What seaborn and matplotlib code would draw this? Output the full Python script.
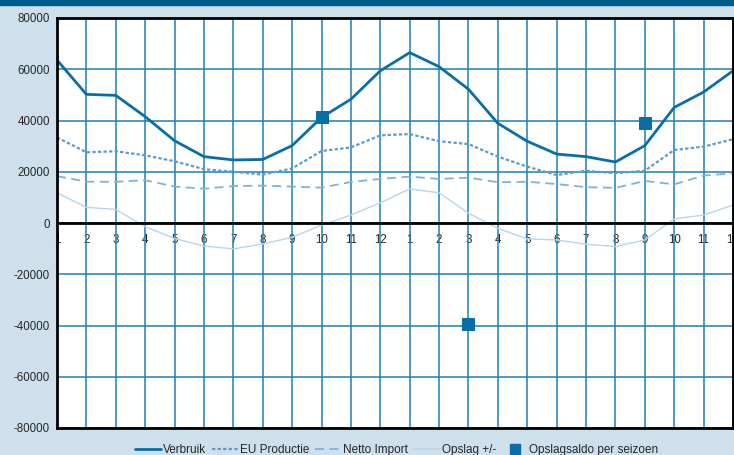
import numpy as np
import pandas as pd
import seaborn as sns
import matplotlib
matplotlib.use("Agg")
import matplotlib.pyplot as plt
from matplotlib.lines import Line2D

# months over two years
maanden = [1, 2, 3, 4, 5, 6, 7, 8, 9, 10, 11, 12,
           1, 2, 3, 4, 5, 6, 7, 8, 9, 10, 11, 12]

verbruik = [63600, 50200, 49800, 41500, 32100, 25900, 24600, 24800, 30200, 41200, 48300, 59400,
            66500, 61000, 52200, 38900, 31900, 26900, 25900, 23800, 30200, 45100, 51100, 59400]
eu_productie = [33400, 27600, 28000, 26400, 24100, 21000, 20000, 18900, 21300, 28100, 29500, 34200,
                34700, 31900, 30800, 25900, 22000, 18700, 20400, 19400, 20400, 28500, 29800, 32700]
netto_import = [18300, 16100, 16100, 16700, 14200, 13400, 14400, 14600, 14200, 13800, 16000, 17200,
                18100, 17200, 17700, 15900, 16100, 15200, 14000, 13700, 16400, 15100, 18500, 19400]
opslag = [11800, 6100, 5300, -1400, -6000, -9000, -10100, -8200, -5600, -800, 3100, 7900,
          13300, 11800, 3800, -2100, -6200, -6600, -8300, -9200, -6600, 1600, 3100, 7000]

# seasonal storage balance (position index, value)
saldo_pos = [9, 14, 20]
saldo_val = [41200, -39400, 39100]

df = pd.DataFrame({
    "idx": np.arange(len(maanden)),
    "Verbruik": verbruik,
    "EU Productie": eu_productie,
    "Netto Import": netto_import,
    "Opslag +/-": opslag,
})
df_saldo = pd.DataFrame({"idx": saldo_pos, "saldo": saldo_val})

sns.set_style("white")
plt.rcParams['font.family'] = ['Liberation Sans', 'DejaVu Sans']

bg = "#cde0ec"
grid_c = "#1f7db8"
c_verbruik = "#0a6ea6"
c_eu = "#5b9ccb"
c_import = "#7fb2d8"
c_opslag = "#b9d5ea"

fig = plt.figure(figsize=(7.34, 4.55), dpi=100, facecolor=bg)
ax = fig.add_axes([57 / 734, 27 / 455, 676 / 734, 410 / 455])
ax.set_facecolor("white")

# top dark band
fig.patches.append(plt.Rectangle((0, 1 - 5 / 455), 1, 5 / 455, transform=fig.transFigure,
                                 color="#005a8c", zorder=0))

sns.lineplot(data=df, x="idx", y="Opslag +/-", ax=ax, color=c_opslag, linewidth=1.0)
sns.lineplot(data=df, x="idx", y="Netto Import", ax=ax, color=c_import, linewidth=1.3,
             linestyle=(0, (5, 3)))
sns.lineplot(data=df, x="idx", y="EU Productie", ax=ax, color=c_eu, linewidth=1.6,
             linestyle=(0, (1.5, 1)))
sns.lineplot(data=df, x="idx", y="Verbruik", ax=ax, color=c_verbruik, linewidth=2.0)
sns.scatterplot(data=df_saldo, x="idx", y="saldo", ax=ax, marker="s", s=80,
                color=c_verbruik, edgecolor=c_verbruik, zorder=5)

ax.set_xlim(0, len(maanden) - 1)
ax.set_ylim(-80000, 80000)
ax.set_yticks(np.arange(-80000, 80001, 20000))
ax.set_yticklabels([str(v) for v in range(-80000, 80001, 20000)], fontsize=8.3)
ax.set_xticks(np.arange(len(maanden)))
ax.tick_params(axis="x", length=0, labelbottom=False)
ax.tick_params(axis="y", length=0, pad=5)
ax.set_xlabel("")
ax.set_ylabel("")

ax.grid(True, color=grid_c, linewidth=1.1)
ax.set_axisbelow(True)
ax.axhline(0, color="black", linewidth=2.0, zorder=3)
for s in ax.spines.values():
    s.set_color("black")
    s.set_linewidth(2.0)

# month labels just below the zero line
sec = ax.secondary_xaxis(0.5)
sec.set_alignment("bottom")
sec.set_xticks(np.arange(len(maanden)))
sec.set_xticklabels([str(m) for m in maanden], fontsize=8.3)
sec.tick_params(length=0, pad=8)
for s in sec.spines.values():
    s.set_visible(False)

handles = [
    Line2D([], [], color=c_verbruik, linewidth=2.0),
    Line2D([], [], color=c_eu, linewidth=1.6, linestyle=(0, (1.5, 1))),
    Line2D([], [], color=c_import, linewidth=1.3, linestyle=(0, (5, 3))),
    Line2D([], [], color=c_opslag, linewidth=1.5),
    Line2D([], [], color=c_verbruik, marker="s", linestyle="none", markersize=7.5),
]
labels = ["Verbruik", "EU Productie", "Netto Import", "Opslag +/-", "Opslagsaldo per seizoen"]
fig.legend(handles, labels, loc="center", bbox_to_anchor=(397 / 734, 5 / 455), ncol=5,
           frameon=False, fontsize=8.5, handlelength=2.2, handletextpad=0.15,
           columnspacing=0.5, borderpad=0)

fig.savefig("out.png", dpi=100, facecolor=bg)
